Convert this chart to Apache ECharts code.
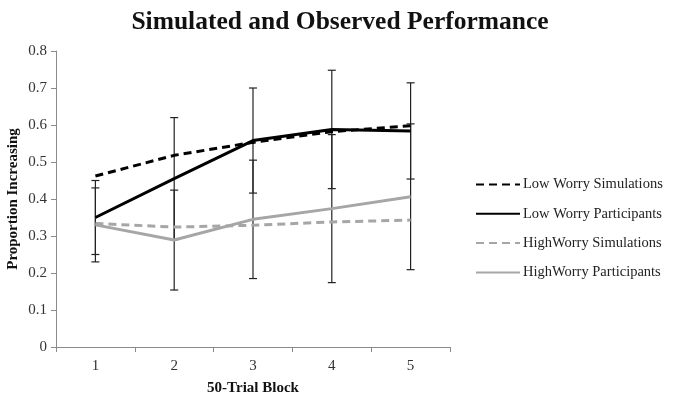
<!DOCTYPE html>
<html><head><meta charset="utf-8">
<script src="https://cdn.jsdelivr.net/npm/echarts@6/dist/echarts.min.js"></script>
<style>html,body{margin:0;padding:0;background:#fff}#c{width:680px;height:398px}</style>
</head><body><div id="c"></div>
<script>
var categories = ['1','2','3','4','5'];
var lowSim = [0.462, 0.518, 0.553, 0.582, 0.598];
var lowPart = [0.35, 0.455, 0.558, 0.588, 0.584];
var highSim = [0.334, 0.324, 0.329, 0.338, 0.343];
var highPart = [0.33, 0.289, 0.345, 0.374, 0.406];
var lowPartErr = [0.10, 0.165, 0.142, 0.16, 0.13];
var highPartErr = [0.10, 0.135, 0.16, 0.20, 0.197];
var yTicks = ['0','0.1','0.2','0.3','0.4','0.5','0.6','0.7','0.8'];

var serif = '"Liberation Serif","Times New Roman",serif';
function errData(vals, errs){
  return vals.map(function(v,i){return [i, v-errs[i], v+errs[i]];});
}
function errSeries(vals, errs){
  return {
    type:'custom', silent:true, z:1,
    data: errData(vals, errs),
    renderItem: function(params, api){
      var lo = api.coord([api.value(0), api.value(1)]);
      var hi = api.coord([api.value(0), api.value(2)]);
      var s = {stroke:'#222', lineWidth:1.2};
      var w = 4;
      return {type:'group', children:[
        {type:'line', shape:{x1:lo[0],y1:lo[1],x2:hi[0],y2:hi[1]}, style:s},
        {type:'line', shape:{x1:lo[0]-w,y1:lo[1],x2:lo[0]+w,y2:lo[1]}, style:s},
        {type:'line', shape:{x1:hi[0]-w,y1:hi[1],x2:hi[0]+w,y2:hi[1]}, style:s}
      ]};
    }
  };
}
var chart = echarts.init(document.getElementById('c'));
chart.setOption({
  animation:false,
  title:{text:'Simulated and Observed Performance', left:'center', top:4,
    textStyle:{fontFamily:serif, fontSize:25.5, fontWeight:'bold', color:'#111'}},
  grid:{left:56, right:230, top:51, bottom:51, containLabel:false, outerBoundsMode:'none'},
  legend:{orient:'vertical', left:470, top:172, itemWidth:44, itemHeight:14, itemGap:14.3,
    itemStyle:{opacity:0},
    textStyle:{fontFamily:serif, fontSize:14.5, color:'#222', padding:[0,0,0,-2]},
    data:['Low Worry Simulations','Low Worry Participants','HighWorry Simulations','HighWorry Participants']},
  xAxis:{type:'category', data:categories, boundaryGap:true,
    name:'50-Trial Block', nameLocation:'middle', nameGap:34,
    nameTextStyle:{fontFamily:serif, fontSize:15, fontWeight:'bold', color:'#111'},
    axisLine:{lineStyle:{color:'#8a8a8a', width:1}},
    axisTick:{show:true, length:5, lineStyle:{color:'#8a8a8a'}},
    axisLabel:{fontFamily:serif, fontSize:15, color:'#333', margin:12}},
  yAxis:{type:'value', min:0, max:0.8, interval:0.1,
    name:'Proportion Increasing', nameLocation:'middle', nameGap:35, nameMoveOverlap:false,
    nameTextStyle:{fontFamily:serif, fontSize:15, fontWeight:'bold', color:'#111'},
    axisLine:{show:true, lineStyle:{color:'#8a8a8a', width:1}},
    axisTick:{show:true, length:5, lineStyle:{color:'#8a8a8a'}},
    splitLine:{show:false},
    axisLabel:{fontFamily:serif, fontSize:15, color:'#333', margin:9,
      formatter:function(v){return yTicks[Math.round(v*10)];}}},
  series:[
    errSeries(lowPart, lowPartErr),
    errSeries(highPart, highPartErr),
    {name:'HighWorry Simulations', type:'line', data:highSim, symbol:'none', z:2,
      lineStyle:{color:'#a6a6a6', width:3, type:[8,5]}, itemStyle:{color:'#a6a6a6'}},
    {name:'HighWorry Participants', type:'line', data:highPart, symbol:'none', z:3,
      lineStyle:{color:'#a6a6a6', width:3}, itemStyle:{color:'#a6a6a6'}},
    {name:'Low Worry Simulations', type:'line', data:lowSim, symbol:'none', z:4,
      lineStyle:{color:'#000', width:3, type:[8,5]}, itemStyle:{color:'#000'}},
    {name:'Low Worry Participants', type:'line', data:lowPart, symbol:'none', z:5,
      lineStyle:{color:'#000', width:3}, itemStyle:{color:'#000'}}
  ]
});
</script></body></html>
